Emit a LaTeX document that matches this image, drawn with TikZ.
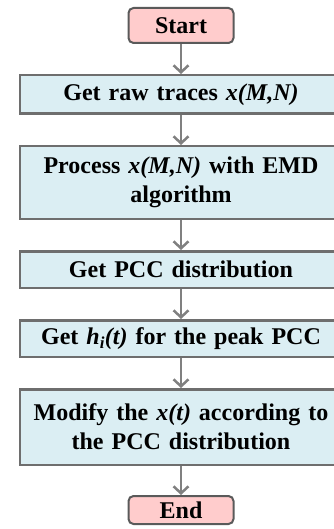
\documentclass[tikz,border=0pt]{standalone}
\usepackage{fontspec}
\setmainfont{Liberation Serif}
\usetikzlibrary{arrows.meta, positioning}

\definecolor{termfill}{HTML}{FFCCCC}
\definecolor{termdraw}{HTML}{5A5A5A}
\definecolor{stepfill}{HTML}{DBEEF3}
\definecolor{stepdraw}{HTML}{6E6E6E}
\definecolor{flowgray}{HTML}{808080}

\begin{document}
\begin{tikzpicture}[
    x=1pt, y=1pt,
    node distance=30pt,
    font=\fontsize{24}{29}\selectfont\bfseries,
    % Estilos de cajas
    termbox/.style={rectangle, rounded corners=5pt, draw=termdraw, fill=termfill, line width=2pt, minimum width=105pt, inner sep=2pt},
    stepbox/.style={rectangle, draw=stepdraw, fill=stepfill, line width=2.5pt, minimum width=322pt, text width=314pt, align=center, inner sep=4pt},
    flowarrow/.style={draw=flowgray, line width=2.5pt, -{Straight Barb[length=7pt, width=15pt, line width=2.5pt]}}
]
\useasboundingbox (0,0) rectangle (333,-529);

% -------------------------
% INICIO
% -------------------------
\node[termbox, minimum height=35pt] (start) at (181,-25.5) {Start};

% -------------------------
% PASOS
% -------------------------
\node[stepbox, minimum height=38.5pt, below=of start] (raw) {Get raw traces \textit{x(M,N)}};

\node[stepbox, minimum height=72.5pt, below=of raw] (emd) {Process \textit{x(M,N)} with EMD\\algorithm};

\node[stepbox, minimum height=36.5pt, below=of emd] (pcc) {Get PCC distribution};

\node[stepbox, minimum height=36.5pt, below=of pcc] (peak) {Get \textit{h\textsubscript{i}(t)} for the peak PCC};

\node[stepbox, minimum height=75.5pt, below=of peak] (modify) {Modify the \textit{x(t)} according to\\the PCC distribution};

% -------------------------
% FIN
% -------------------------
\node[termbox, minimum height=28pt, below=29pt of modify] (end) {End};

% Conexiones
\draw[flowarrow] (start) -- (raw);
\draw[flowarrow] (raw) -- (emd);
\draw[flowarrow] (emd) -- (pcc);
\draw[flowarrow] (pcc) -- (peak);
\draw[flowarrow] (peak) -- (modify);
\draw[flowarrow] (modify) -- (end);

\end{tikzpicture}
\end{document}
